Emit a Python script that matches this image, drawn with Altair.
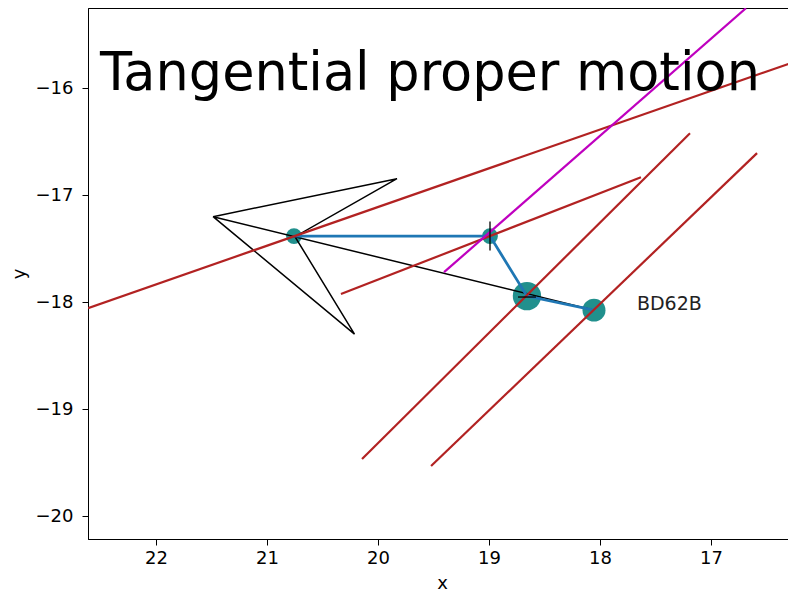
import altair as alt
import pandas as pd

# ---- data ----
star_x = [20.757, 18.991, 18.658, 18.054]
star_y = [-17.383, -17.383, -17.944, -18.075]
star_w = [1.0, 1.0, 3.2, 2.1]          # relative marker weight

arrow_x = [18.054, 21.486, 19.829, 20.748, 20.212, 21.486]
arrow_y = [-18.075, -17.201, -16.846, -17.388, -18.299, -17.201]

red_x1 = [22.613, 20.334, 20.144, 19.522]
red_y1 = [-18.056, -17.925, -19.467, -19.533]
red_x2 = [16.234, 17.631, 17.189, 16.585]
red_y2 = [-15.748, -16.832, -16.421, -16.607]

mag_x1 = [19.405]
mag_y1 = [-17.720]
mag_x2 = [16.685]
mag_y2 = [-15.252]

label_text = ["BD62B"]
label_x = [17.667]
label_y = [-18.075]

title_text = ["Tangential proper motion"]
title_x = [22.505]
title_y = [-16.02]

x_ticks = [17, 18, 19, 20, 21, 22]
y_ticks = [-20, -19, -18, -17, -16]
X_DOMAIN = [16.234, 22.613]
Y_DOMAIN = [-20.215, -15.25]

FONT = "DejaVu Sans"

stars = pd.DataFrame({"x": star_x, "y": star_y, "w": star_w, "order": list(range(len(star_x)))})
arrow = pd.DataFrame({"x": arrow_x, "y": arrow_y, "order": list(range(len(arrow_x)))})
reds = pd.DataFrame({"x": red_x1, "y": red_y1, "x2": red_x2, "y2": red_y2})
mags = pd.DataFrame({"x": mag_x1, "y": mag_y1, "x2": mag_x2, "y2": mag_y2})
labels = pd.DataFrame({"x": label_x, "y": label_y, "t": label_text})
titles = pd.DataFrame({"x": title_x, "y": title_y, "t": title_text})
vmark = stars.iloc[[1]]
hmark = stars.iloc[[2]]

xs = alt.Scale(domain=X_DOMAIN, reverse=True, nice=False, zero=False)
ys = alt.Scale(domain=Y_DOMAIN, nice=False, zero=False)

common = dict(format="d", grid=False, tickSize=6, labelFontSize=18, titleFontSize=18,
              labelFont=FONT, titleFont=FONT, labelColor="black", titleColor="black",
              domainColor="black", tickColor="black", titleFontWeight="normal",
              labelFlush=False, domainWidth=1, tickWidth=1)
xaxis = alt.Axis(values=x_ticks, title="x", labelPadding=4, titlePadding=7, **common)
yaxis = alt.Axis(values=y_ticks, title="y", labelPadding=9, titlePadding=7, **common)

X = alt.X("x:Q", scale=xs, axis=xaxis)
Y = alt.Y("y:Q", scale=ys, axis=yaxis)

circles = alt.Chart(stars).mark_circle(color="#21908d", opacity=1).encode(
    x=X, y=Y,
    size=alt.Size("w:Q", scale=alt.Scale(domain=[0, 3.2], range=[0, 804]), legend=None),
)

arrow_l = alt.Chart(arrow).mark_line(color="black", strokeWidth=1.5, clip=True).encode(
    x=X, y=Y, order="order:Q")

blue = alt.Chart(stars).mark_line(color="#1f77b4", strokeWidth=2.8, clip=True).encode(
    x=X, y=Y, order="order:Q")

red = alt.Chart(reds).mark_rule(color="#b22222", strokeWidth=2.2, clip=True).encode(
    x=X, y=Y, x2="x2:Q", y2="y2:Q")

mag = alt.Chart(mags).mark_rule(color="#bf00bf", strokeWidth=2.2, clip=True).encode(
    x=X, y=Y, x2="x2:Q", y2="y2:Q")

vm = alt.Chart(vmark).mark_point(shape="M0,-1V1", filled=False, color="black",
                                 strokeWidth=1.3, size=841, opacity=1).encode(x=X, y=Y)
hm = alt.Chart(hmark).mark_point(shape="M-1,0.1H1", filled=False, color="black",
                                 strokeWidth=1.3, size=324, opacity=1).encode(x=X, y=Y)

label = alt.Chart(labels).mark_text(align="left", baseline="alphabetic", font=FONT,
                                    fontSize=19, color="#222222").encode(x=X, y=Y, text="t:N")

title = alt.Chart(titles).mark_text(align="left", baseline="alphabetic", font=FONT,
                                    fontSize=52.5, color="black").encode(x=X, y=Y, text="t:N")

chart = alt.layer(circles, arrow_l, blue, red, mag, vm, hm, label, title).properties(
    width=708, height=531,
    autosize=alt.AutoSizeParams(type="none"),
    padding={"left": 80, "top": 0, "right": -8, "bottom": 52},
).configure_view(stroke="black", strokeWidth=1)

chart.save("out.html", embed_options={"renderer": "svg", "actions": False})
